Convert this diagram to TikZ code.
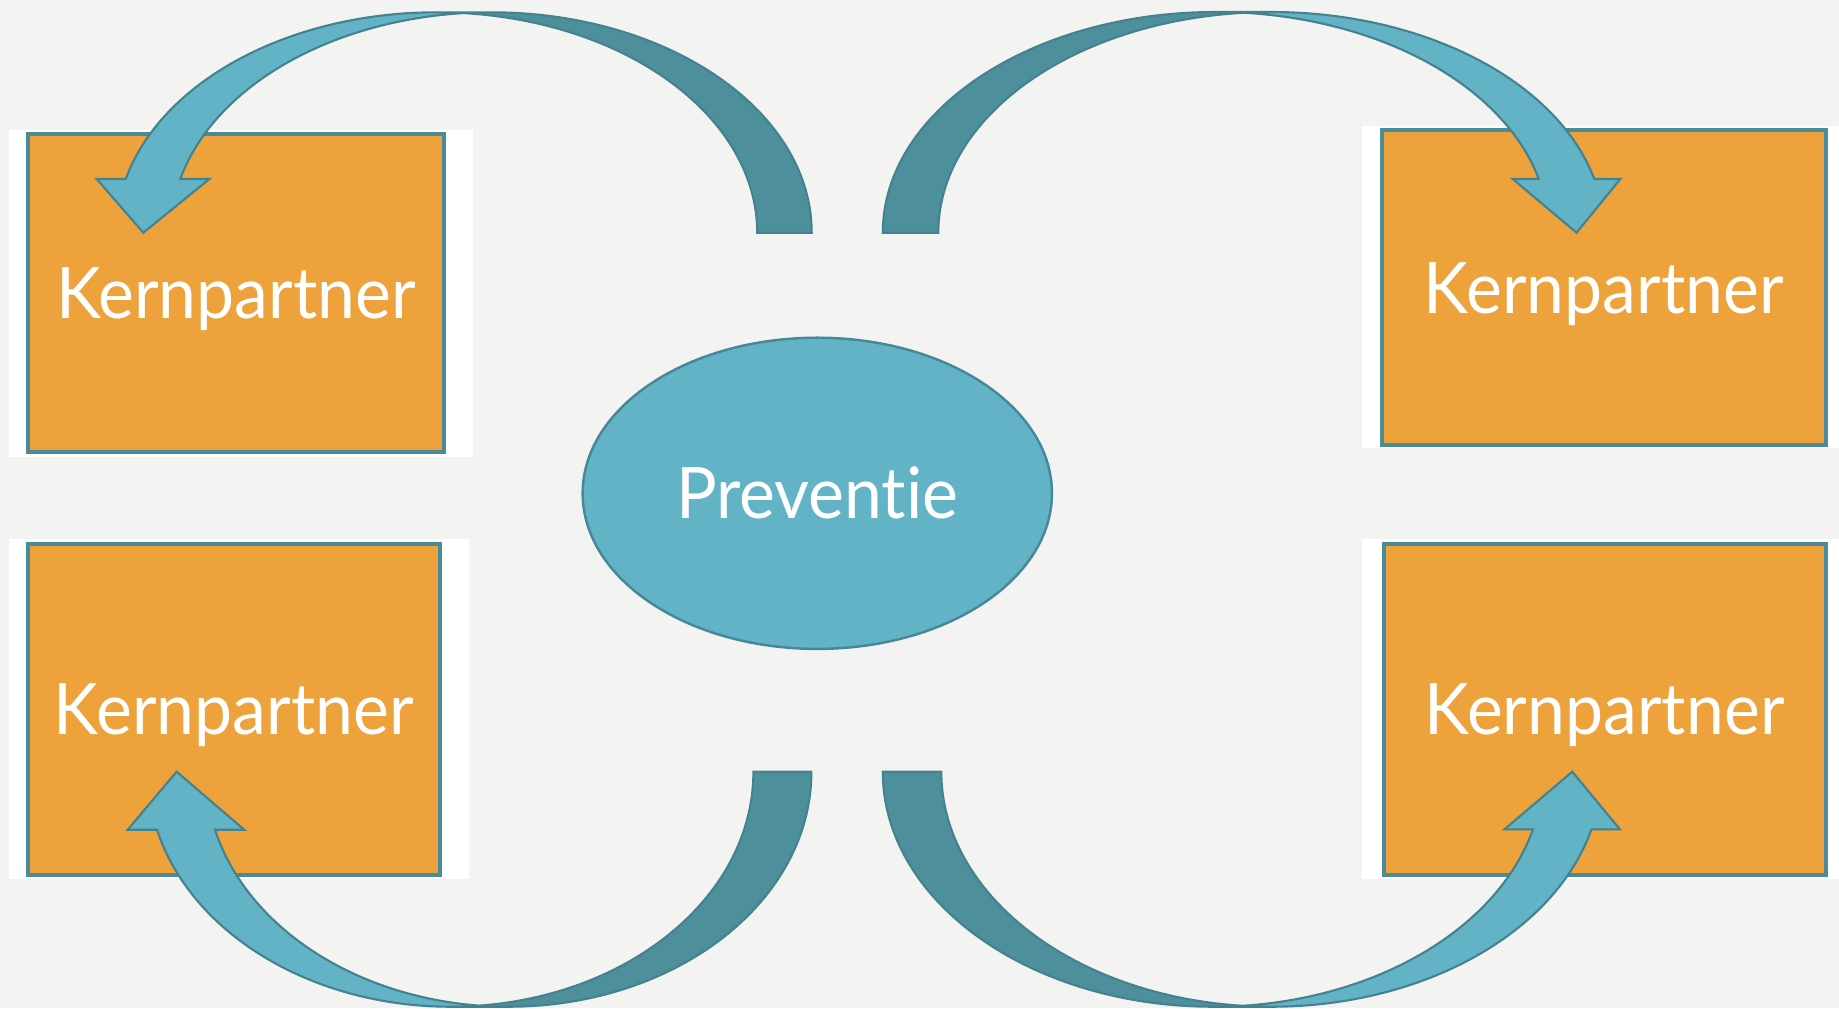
\documentclass[tikz,border=0pt]{standalone}
\usepackage{fontspec}
\setmainfont{Lato}[FakeStretch=0.955, Ligatures=NoCommon]
\usetikzlibrary{shapes.geometric}
\definecolor{bgc}{HTML}{F3F3F1}
\definecolor{korange}{HTML}{EEA23B}
\definecolor{boxline}{HTML}{4B8A99}
\definecolor{ellfill}{HTML}{63B3C6}
\definecolor{ellline}{HTML}{46879A}
\definecolor{arrowlightc}{HTML}{63B3C6}
\definecolor{arrowdarkc}{HTML}{4E8F9C}
\definecolor{arrowlinec}{HTML}{44828F}
% curved block arrow in local coords: dark base from (0,0) to (th,0), bulge up, head on the right
\newcommand{\kcurve}[5]{%
  \pgfmathsetmacro{\kR}{#1}%
  \pgfmathsetmacro{\kH}{#2}%
  \pgfmathsetmacro{\kT}{#3}%
  \pgfmathsetmacro{\kW}{#4}%
  \pgfmathsetmacro{\kA}{#5}%
  \pgfmathsetmacro{\kPhiA}{acos(\kT/(2*\kR))}%
  \pgfmathsetmacro{\kPhiB}{180-\kPhiA}%
  \pgfmathsetmacro{\kIx}{\kR+\kT/2}%
  \pgfmathsetmacro{\kIy}{\kH*sin(\kPhiA)}%
  \pgfmathsetmacro{\kPhiF}{asin(\kA/\kH)}%
  \pgfmathsetmacro{\kXf}{\kR+\kR*cos(\kPhiF)}%
  \pgfmathsetmacro{\kXs}{\kXf+\kT}%
  \pgfmathsetmacro{\kDh}{(\kW-\kT)/2}%
  \pgfmathsetmacro{\kXl}{\kXf-\kDh}%
  \pgfmathsetmacro{\kXr}{\kXs+\kDh}%
  \pgfmathsetmacro{\kTip}{2*\kR+\kT/2}%
  \pgfmathsetmacro{\kTop}{\kR+\kT}%
  \fill[arrowlightc] (\kTip,0) -- (\kXl,\kA) -- (\kXf,\kA)
     arc[start angle=\kPhiF, end angle=90, x radius=\kR, y radius=\kH]
     -- (\kTop,\kH)
     arc[start angle=90, end angle=\kPhiF, x radius=\kR, y radius=\kH]
     -- (\kXr,\kA) -- cycle;
  \fill[arrowdarkc] (0,0)
     arc[start angle=180, end angle=\kPhiA, x radius=\kR, y radius=\kH]
     arc[start angle=\kPhiB, end angle=180, x radius=\kR, y radius=\kH] -- cycle;
  \draw[arrowedge] (\kIx,\kIy)
     arc[start angle=\kPhiB, end angle=180, x radius=\kR, y radius=\kH]
     -- (0,0)
     arc[start angle=180, end angle=90, x radius=\kR, y radius=\kH]
     -- (\kTop,\kH)
     arc[start angle=90, end angle=\kPhiF, x radius=\kR, y radius=\kH]
     -- (\kXr,\kA) -- (\kTip,0) -- (\kXl,\kA) -- (\kXf,\kA)
     arc[start angle=\kPhiF, end angle=90, x radius=\kR, y radius=\kH];
}
\begin{document}
\begin{tikzpicture}[x=0.01cm, y=-0.01cm,
  arrowedge/.style={draw=arrowlinec, line width=0.6pt, line join=miter},
  kbox/.style={rectangle, draw=boxline, line width=1.1pt, fill=korange,
    inner sep=0pt, text=white, font=\fontsize{20.2}{24}\selectfont,
    text height=14.5pt, text depth=-2.5pt},
  kell/.style={ellipse, draw=ellline, line width=0.7pt, fill=ellfill,
    inner sep=0pt, text=white, font=\fontsize{20.2}{24}\selectfont,
    text height=14.5pt, text depth=-2pt}]
\useasboundingbox (0,0) rectangle (1839,1008);
\fill[bgc] (0,0) rectangle (1839,1008);
% white picture margins behind the boxes
\fill[white] (9.2,130) rectangle (473.2,456.7);
\fill[white] (1362,126) rectangle (1839,448.3);
\fill[white] (9.2,539) rectangle (468.8,879);
\fill[white] (1362,539) rectangle (1839,879);
% boxes
\node[kbox, minimum width=4.16cm, minimum height=3.18cm] (k1) at (236,293.2) {Kernpartner};
\node[kbox, minimum width=4.436cm, minimum height=3.144cm] (k2) at (1603.8,287.5) {Kernpartner};
\node[kbox, minimum width=4.117cm, minimum height=3.31cm] (k3) at (233.85,709.2) {Kernpartner};
\node[kbox, minimum width=4.419cm, minimum height=3.31cm] (k4) at (1604.65,709.2) {Kernpartner};
% centre
\node[kell, minimum width=4.69cm, minimum height=3.11cm] (prev) at (817.3,493.3) {Preventie};
% curved arrows
\begin{scope}[shift={(811.7,232.7)}, xscale=-1, yscale=-1]
  \kcurve{320.55}{220.4}{54.5}{112.7}{53.7}
\end{scope}
\begin{scope}[shift={(882.8,232.7)}, yscale=-1]
  \kcurve{333}{220.7}{55.5}{107.5}{53.7}
\end{scope}
\begin{scope}[shift={(811.4,771.7)}, xscale=-1]
  \kcurve{302.9}{235}{58}{116.5}{58}
\end{scope}
\begin{scope}[shift={(882.8,771.7)}]
  \kcurve{330.1}{235}{58.5}{115.5}{57.6}
\end{scope}
\end{tikzpicture}
\end{document}
